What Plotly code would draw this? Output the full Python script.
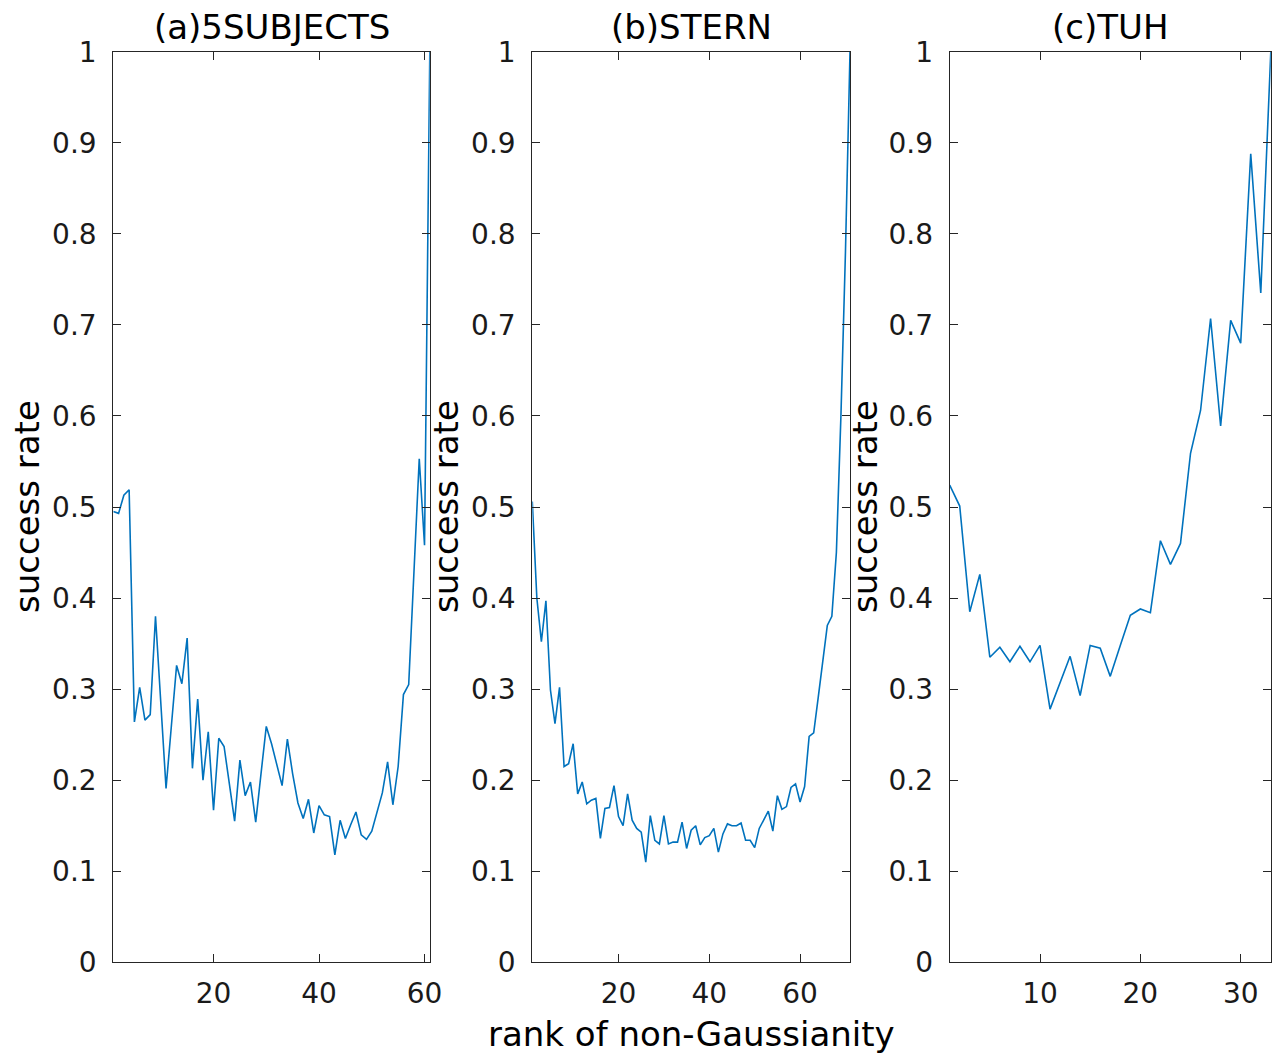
import plotly.graph_objects as go

# ---- data ----
a_vals = [0.495, 0.493, 0.513, 0.519, 0.264, 0.302, 0.266, 0.272, 0.380, 0.290,
          0.191, 0.259, 0.326, 0.306, 0.356, 0.213, 0.289, 0.200, 0.253, 0.167,
          0.246, 0.237, 0.197, 0.155, 0.222, 0.183, 0.198, 0.154, 0.207, 0.259,
          0.240, 0.217, 0.194, 0.245, 0.207, 0.175, 0.158, 0.179, 0.142, 0.172,
          0.162, 0.160, 0.118, 0.156, 0.136, 0.151, 0.165, 0.140, 0.135, 0.144,
          0.164, 0.186, 0.220, 0.173, 0.215, 0.294, 0.305, 0.430, 0.553, 0.458,
          1.000]
b_vals = [0.506, 0.400, 0.352, 0.397, 0.299, 0.262, 0.302, 0.215, 0.218, 0.240,
          0.185, 0.198, 0.174, 0.178, 0.180, 0.136, 0.169, 0.170, 0.194, 0.160,
          0.150, 0.185, 0.156, 0.147, 0.143, 0.110, 0.161, 0.134, 0.130, 0.161,
          0.130, 0.132, 0.132, 0.154, 0.125, 0.145, 0.150, 0.129, 0.137, 0.139,
          0.147, 0.121, 0.141, 0.152, 0.150, 0.150, 0.153, 0.134, 0.134, 0.126,
          0.147, 0.156, 0.166, 0.144, 0.183, 0.168, 0.171, 0.192, 0.196, 0.176,
          0.193, 0.248, 0.252, 0.291, 0.330, 0.370, 0.380, 0.450, 0.600, 0.780,
          1.000]
c_vals = [0.524, 0.501, 0.385, 0.426, 0.335, 0.346, 0.330, 0.347, 0.330, 0.348,
          0.278, 0.308, 0.336, 0.293, 0.348, 0.345, 0.314, 0.348, 0.381, 0.388,
          0.384, 0.463, 0.437, 0.460, 0.559, 0.606, 0.707, 0.589, 0.705, 0.680,
          0.888, 0.735, 1.000]

panels = [
    {"title": "(a)5SUBJECTS", "vals": a_vals, "xticks": [20, 40, 60]},
    {"title": "(b)STERN", "vals": b_vals, "xticks": [20, 40, 60]},
    {"title": "(c)TUH", "vals": c_vals, "xticks": [10, 20, 30]},
]
y_ticks = [0, 0.1, 0.2, 0.3, 0.4, 0.5, 0.6, 0.7, 0.8, 0.9, 1]
y_tick_text = ["0", "0.1", "0.2", "0.3", "0.4", "0.5", "0.6", "0.7", "0.8", "0.9", "1"]
y_label = "success rate"
x_label = "rank of non-Gaussianity"

# ---- layout geometry (page pixels; body margin removed in post_script) ----
W, H = 1280, 1057
x_px = [(113.3, 429.8), (532.3, 850.0), (949.7, 1270.8)]
y_top, y_bot = 51.7, 962.3
ylab_x = [27, 446, 865]


def px_x(p):
    return p / W


def px_y(p):
    return 1 - p / H


AX = "#262626"
LINE = "#0072BD"
FONT = "DejaVu Sans"

fig = go.Figure()
annotations = []
for i, p in enumerate(panels):
    n = len(p["vals"])
    xs = list(range(1, n + 1))
    sfx = "" if i == 0 else str(i + 1)
    fig.add_trace(go.Scatter(x=xs, y=p["vals"], mode="lines",
                             line=dict(color=LINE, width=1.6),
                             xaxis="x" + sfx, yaxis="y" + sfx,
                             showlegend=False, hoverinfo="skip"))
    dom_x = [px_x(x_px[i][0]), px_x(x_px[i][1])]
    axis_common = dict(showline=True, linecolor=AX, linewidth=1.2, mirror="ticks",
                       ticks="inside", tickcolor=AX, ticklen=8, tickwidth=1.2,
                       showgrid=False, zeroline=False, automargin=False,
                       tickfont=dict(family=FONT, size=28, color="#1a1a1a"))
    fig.update_layout(**{
        "xaxis" + sfx: dict(domain=dom_x, range=[1, n], tickvals=p["xticks"],
                            anchor="y" + sfx, ticklabelstandoff=6, **axis_common),
        "yaxis" + sfx: dict(domain=[px_y(y_bot), px_y(y_top)], range=[0, 1],
                            tickvals=y_ticks, ticktext=y_tick_text,
                            anchor="x" + sfx, ticklabelstandoff=10, **axis_common),
    })
    annotations.append(dict(text=p["title"], x=sum(dom_x) / 2, y=px_y(27),
                            xref="paper", yref="paper", showarrow=False,
                            xanchor="center", yanchor="middle",
                            font=dict(family=FONT, size=34, color="black")))
    annotations.append(dict(text=y_label, x=px_x(ylab_x[i]), y=px_y(507),
                            xref="paper", yref="paper", showarrow=False,
                            textangle=-90, xanchor="center", yanchor="middle",
                            font=dict(family=FONT, size=34, color="black")))

annotations.append(dict(text=x_label, x=px_x(691), y=px_y(1034),
                        xref="paper", yref="paper", showarrow=False,
                        xanchor="center", yanchor="middle",
                        font=dict(family=FONT, size=34, color="black")))

fig.update_layout(width=W, height=H, margin=dict(l=0, r=0, t=0, b=0),
                  paper_bgcolor="white", plot_bgcolor="white",
                  template="none", annotations=annotations)

fig.write_html("out.html",
               config={"displayModeBar": False},
               post_script="document.body.style.margin='0';"
                           "document.body.style.overflow='hidden';")
